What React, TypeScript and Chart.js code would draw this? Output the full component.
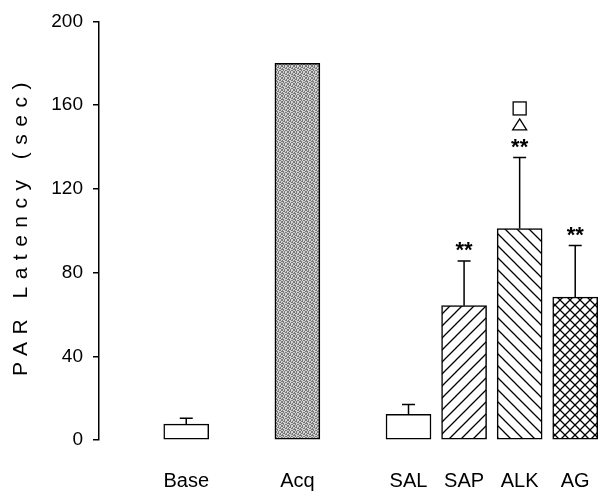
import React, { useEffect, useRef } from 'react';
import { Chart, registerables } from 'chart.js';

Chart.register(...registerables);

// ---- data ----
const categories = ['Base', '', 'Acq', '', 'SAL', 'SAP', 'ALK', 'AG'];
const latency: (number | null)[] = [7.6, null, 180, null, 12.3, 64.2, 101, 68.3];
const errUpper: (number | null)[] = [2.8, null, null, null, 4.7, 21.3, 34, 24.6];
const stars = ['', '', '', '', '', '**', '**', '**'];
const extraMarks: string[][] = [[], [], [], [], [], [], ['triangle', 'square'], []];
const yTicks = [0, 40, 80, 120, 160, 200];
const yTitle = 'PAR Latency (sec)';

// fill style per category
const fillKinds = ['open', 'none', 'stipple', 'none', 'open', 'slash', 'backslash', 'cross'];

function makePattern(kind: string): CanvasPattern | string {
  if (kind === 'open' || kind === 'none') return '#ffffff';
  const c = document.createElement('canvas');
  const ctx = c.getContext('2d')!;
  if (kind === 'stipple') {
    const grid = [
      [1, 0, 1, 0, 0, 1],
      [0, 1, 1, 0, 1, 0],
      [1, 0, 0, 1, 1, 0],
      [1, 1, 0, 0, 0, 1],
      [0, 1, 0, 1, 1, 0],
      [1, 0, 1, 0, 0, 1],
    ];
    c.width = 6; c.height = 6;
    for (let r = 0; r < 6; r++) for (let q = 0; q < 6; q++) {
      ctx.fillStyle = grid[r][q] ? '#7a7a7a' : '#d2d2d2';
      ctx.fillRect(q, r, 1, 1);
    }
    return ctx.createPattern(c, 'repeat')!;
  }
  const s = kind === 'cross' ? 10 : 12;
  c.width = s; c.height = s;
  ctx.fillStyle = '#fff';
  ctx.fillRect(0, 0, s, s);
  ctx.strokeStyle = '#000';
  ctx.lineWidth = 1.3;
  const slash = () => {
    ctx.beginPath();
    ctx.moveTo(-1, s + 1); ctx.lineTo(s + 1, -1);
    ctx.moveTo(-2, 2); ctx.lineTo(2, -2);
    ctx.moveTo(s - 2, s + 2); ctx.lineTo(s + 2, s - 2);
    ctx.stroke();
  };
  const back = () => {
    ctx.beginPath();
    ctx.moveTo(-1, -1); ctx.lineTo(s + 1, s + 1);
    ctx.moveTo(s - 2, -2); ctx.lineTo(s + 2, 2);
    ctx.moveTo(-2, s - 2); ctx.lineTo(2, s + 2);
    ctx.stroke();
  };
  if (kind === 'slash') slash();
  if (kind === 'backslash') back();
  if (kind === 'cross') { slash(); back(); }
  return ctx.createPattern(c, 'repeat')!;
}

const overlay = {
  id: 'overlay',
  afterDatasetsDraw(chart: any) {
    const ctx: CanvasRenderingContext2D = chart.ctx;
    const xs = chart.scales.x;
    const ys = chart.scales.y;
    ctx.save();
    ctx.strokeStyle = '#000';
    ctx.fillStyle = '#000';
    categories.forEach((_, i) => {
      const v = latency[i];
      if (v == null) return;
      const x = xs.getPixelForValue(i);
      let topY = ys.getPixelForValue(v);
      const e = errUpper[i];
      if (e != null) {
        const yb = ys.getPixelForValue(v);
        topY = ys.getPixelForValue(v + e);
        ctx.lineWidth = 1.5;
        ctx.beginPath();
        ctx.moveTo(x, yb);
        ctx.lineTo(x, topY);
        ctx.moveTo(x - 6.5, topY);
        ctx.lineTo(x + 6.5, topY);
        ctx.stroke();
      }
      let y = topY - 16.5;
      if (stars[i]) {
        ctx.font = 'bold 22px "Liberation Sans", Arial, sans-serif';
        ctx.textAlign = 'center';
        ctx.textBaseline = 'alphabetic';
        ctx.fillText(stars[i], x, y + 12.8);
      }
      y -= 16.5;
      extraMarks[i].forEach((m) => {
        ctx.lineWidth = 1.3;
        if (m === 'triangle') {
          ctx.beginPath();
          ctx.moveTo(x, y - 5.5);
          ctx.lineTo(x + 7, y + 5.5);
          ctx.lineTo(x - 7, y + 5.5);
          ctx.closePath();
          ctx.stroke();
        } else if (m === 'square') {
          ctx.strokeRect(x - 6.5, y - 6.5, 13, 13);
        }
        y -= 16;
      });
    });
    // y-axis title
    ctx.translate(27, 376);
    ctx.rotate(-Math.PI / 2);
    ctx.font = '21px "Liberation Sans", Arial, sans-serif';
    ctx.textAlign = 'left';
    ctx.textBaseline = 'alphabetic';
    (ctx as any).letterSpacing = '7.5px';
    ctx.fillText(yTitle, 0, 0);
    ctx.restore();
  },
};

export default function App() {
  const ref = useRef<HTMLCanvasElement>(null);
  useEffect(() => {
    if (!ref.current) return;
    const chart = new Chart(ref.current, {
      type: 'bar',
      data: {
        datasets: [
          {
            data: categories.map((_, i) => ({ x: i, y: latency[i] })) as any,
            backgroundColor: fillKinds.map(makePattern) as any,
            borderColor: '#000',
            borderWidth: 1.5,
            borderSkipped: false,
            barThickness: 45,
          },
        ],
      },
      options: {
        responsive: false,
        animation: false,
        layout: { padding: { top: 18, right: 0, bottom: 0, left: 0 } },
        plugins: { legend: { display: false }, tooltip: { enabled: false } },
        scales: {
          x: {
            type: 'linear',
            offset: false,
            min: -1.57,
            max: 7.41,
            grid: { display: false, drawTicks: false, offset: false },
            border: { display: false },
            afterBuildTicks: (s: any) => {
              s.ticks = categories
                .map((c, i) => ({ value: i, c }))
                .filter((t) => t.c)
                .map((t) => ({ value: t.value }));
            },
            ticks: {
              callback: (v: any) => categories[v as number],
              padding: 29,
              autoSkip: false,
              maxRotation: 0,
              color: '#000',
              font: { family: '"Liberation Sans", Arial, sans-serif', size: 20 },
            },
            afterFit: (s: any) => {
              s.height = 52;
              s.paddingLeft = 0;
              s.paddingRight = 0;
            },
          },
          y: {
            min: 0,
            max: 200,
            afterBuildTicks: (s: any) => { s.ticks = yTicks.map((v) => ({ value: v })); },
            ticks: {
              padding: 10,
              color: '#000',
              font: { family: '"Liberation Sans", Arial, sans-serif', size: 19 },
            },
            grid: { drawOnChartArea: false, tickLength: 6, color: '#000', lineWidth: 1.5 },
            border: { display: true, color: '#000', width: 1.5 },
            afterFit: (s: any) => { s.width = 99; },
          },
        },
      } as any,
      plugins: [overlay],
    });
    return () => chart.destroy();
  }, []);
  return (
    <div style={{ position: 'absolute', left: 0, top: 0, width: 598, height: 492, background: '#fff' }}>
      <canvas ref={ref} width={598} height={492} style={{ display: 'block' }} />
    </div>
  );
}
